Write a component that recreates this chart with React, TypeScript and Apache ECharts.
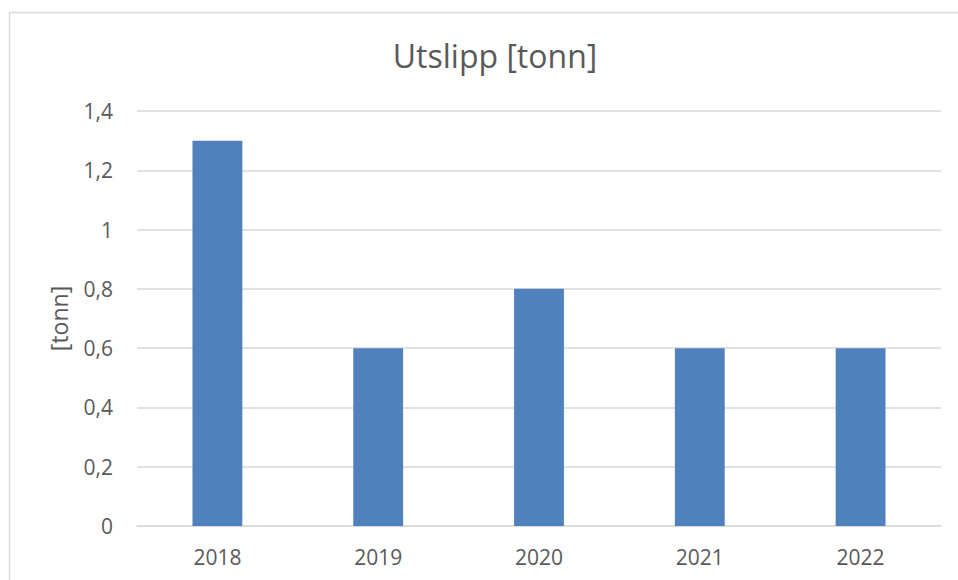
import React, { useEffect, useRef } from "react";
import * as echarts from "echarts";

const categories = ["2018", "2019", "2020", "2021", "2022"];
const values = [1.3, 0.6, 0.8, 0.6, 0.6];
const titleText = "Utslipp [tonn]";
const yAxisName = "[tonn]";

export default function App() {
  const ref = useRef<HTMLDivElement>(null);
  useEffect(() => {
    if (!ref.current) return;
    const chart = echarts.init(ref.current, undefined, { renderer: "svg" });
    const font = "'Open Sans', sans-serif";
    chart.setOption({
      animation: false,
      backgroundColor: "#ffffff",
      title: {
        text: titleText,
        left: 490,
        textAlign: "center",
        top: 34,
        textStyle: { fontFamily: font, fontSize: 32, fontWeight: "normal", color: "#595959" },
      },
      graphic: [
        {
          type: "rect",
          shape: { x: 9.5, y: 12.5, width: 1000, height: 1000 },
          style: { fill: "none", stroke: "#d9d9d9", lineWidth: 1.5 },
          silent: true,
          z: -1,
        },
      ],
      grid: { left: 137, right: 17, top: 111, bottom: 54, containLabel: false },
      xAxis: {
        type: "category",
        data: categories,
        axisLine: { show: true, lineStyle: { color: "#d9d9d9", width: 1.5 } },
        axisTick: { show: false },
        axisLabel: { color: "#595959", fontFamily: font, fontSize: 21, margin: 20 },
      },
      yAxis: {
        type: "value",
        min: 0,
        max: 1.4,
        interval: 0.2,
        name: yAxisName,
        nameLocation: "middle",
        nameGap: 67,
        nameRotate: 90,
        nameTextStyle: { color: "#595959", fontFamily: font, fontSize: 23 },
        axisLine: { show: false },
        axisTick: { show: false },
        splitLine: { lineStyle: { color: "#d9d9d9", width: 1.5 } },
        axisLabel: {
          color: "#595959",
          fontFamily: font,
          fontSize: 21,
          margin: 24,
          formatter: (v: number) => String(Math.round(v * 10) / 10).replace(".", ","),
        },
      },
      series: [
        {
          type: "bar",
          data: values,
          barWidth: "31%",
          itemStyle: { color: "#4f81bd" },
        },
      ],
    });
    return () => chart.dispose();
  }, []);
  return (
    <div
      ref={ref}
      style={{ position: "fixed", left: 0, top: 0, width: 958, height: 580 }}
    />
  );
}
